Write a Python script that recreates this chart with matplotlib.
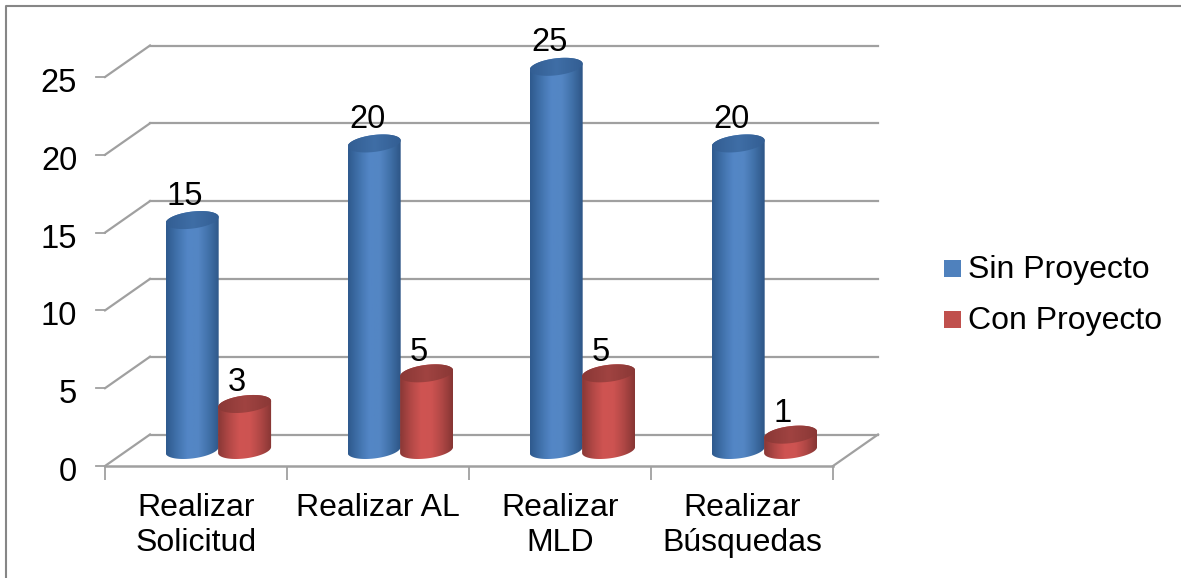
import numpy as np
import matplotlib
matplotlib.use('Agg')
import matplotlib.pyplot as plt
from matplotlib.colors import LinearSegmentedColormap
from matplotlib.patches import PathPatch, Rectangle
from matplotlib.path import Path
from matplotlib.transforms import ScaledTranslation

categories = ['Realizar\nSolicitud', 'Realizar AL', 'Realizar\nMLD', 'Realizar\nBúsquedas']
sin_proyecto = [15, 20, 25, 20]
con_proyecto = [3, 5, 5, 1]
yticks = [0, 5, 10, 15, 20, 25]

W, H = 1181, 578
# pixel size of one data unit
PX_X = 182.0
PX_Y = 15.56
# depth of the fake 3d box
DX = 45 / PX_X
DY = 31.5 / PX_Y
# room above 25 so the tallest cylinder is not cut by the axes box
YMAX = 28

plt.rcParams['font.family'] = ['Liberation Sans', 'DejaVu Sans']

fig = plt.figure(figsize=(W / 100, H / 100), dpi=100)

# frame around the chart, only left and top are visible
frame = fig.add_axes([0, 0, 1, 1])
frame.set_xlim(0, W)
frame.set_ylim(H, 0)
frame.axis('off')
frame.plot([5.5, 5.5, W], [H, 5.5, 5.5], color='#868686', lw=1.5)

ax = fig.add_axes([105 / W, 1 - 466 / H, 4 * PX_X / W, YMAX * PX_Y / H])
ax.set_xlim(0, 4)
ax.set_ylim(0, YMAX)
ax.patch.set_alpha(0)
for s in ax.spines.values():
    s.set_visible(False)

grid_c = '#a0a0a0'
for y in yticks:
    ax.plot([DX, 4 + DX], [y + DY, y + DY], color=grid_c, lw=1.6, clip_on=False, zorder=1)
    ax.plot([0, DX], [y, y + DY], color=grid_c, lw=1.6, clip_on=False, zorder=1)
ax.plot([4, 4 + DX], [0, DY], color=grid_c, lw=1.6, clip_on=False, zorder=1)
ax.plot([0, 4], [0, 0], color=grid_c, lw=1.8, clip_on=False, zorder=1)

ax.set_xticks(range(5))
ax.set_xticklabels([])
ax.set_yticks(yticks)
ax.tick_params(axis='x', length=10, width=1.3, color=grid_c)
ax.tick_params(axis='y', length=0, pad=20, labelsize=23.5)
for lab in ax.get_yticklabels():
    lab.set_transform(lab.get_transform() + ScaledTranslation(0, -3 / 100, fig.dpi_scale_trans))
for y in yticks:
    ax.plot([-9 / PX_X, 0], [y, y], color=grid_c, lw=1.3, clip_on=False, zorder=1)
for i, c in enumerate(categories):
    ax.annotate(c, (i + 0.5, 0), xytext=(0, -27), textcoords='offset pixels', ha='center', va='top',
                fontsize=23, linespacing=1.2, annotation_clip=False)

blue_side = LinearSegmentedColormap.from_list('b', ['#2f5a8e', '#4172ac', '#5386c6', '#5486c4', '#4171a9', '#2e5687'])
red_side = LinearSegmentedColormap.from_list('r', ['#8a3836', '#b24846', '#cf5452', '#cd5351', '#af4745', '#873634'])
blue_top = LinearSegmentedColormap.from_list('bt', ['#335e93', '#3f6ea6', '#335e93'])
red_top = LinearSegmentedColormap.from_list('rt', ['#8a3836', '#a04341', '#8a3836'])

# half sizes of the cylinder ellipse, tilt of its axis
RX = 26.5 / PX_X
RY = 8.5 / PX_Y
TILT = 3.0 / PX_Y
BASE = 1.03
HEIGHT = 0.985
t = np.linspace(0, 2 * np.pi, 121)


def ellipse(cx, cy):
    return cx + RX * np.cos(t), cy + RY * np.sin(t) + TILT * np.cos(t)


def cylinder(x, value, side, top, z):
    ytop = BASE + value * HEIGHT
    bx, by = ellipse(x, BASE)
    tx, ty = ellipse(x, ytop)
    # outline: lower half of the base, then upper half of the top ellipse
    low = t >= np.pi
    up = t <= np.pi
    xs = np.r_[bx[low], tx[up]]
    ys = np.r_[by[low], ty[up]]
    clip = PathPatch(Path(np.c_[xs, ys]), transform=ax.transData, fc='none', ec='none')
    ax.add_patch(clip)
    grad = np.linspace(0, 1, 64).reshape(1, -1)
    im = ax.imshow(grad, cmap=side, extent=[x - RX, x + RX, BASE - 1, ytop + 1],
                   aspect='auto', zorder=z)
    im.set_clip_path(clip)
    lid = PathPatch(Path(np.c_[tx, ty]), transform=ax.transData, fc='none', ec='none')
    ax.add_patch(lid)
    im2 = ax.imshow(grad, cmap=top, extent=[x - RX, x + RX, ytop - 1, ytop + 1],
                    aspect='auto', zorder=z + 0.1)
    im2.set_clip_path(lid)
    return ytop


for i in range(4):
    bx = i + 0.479
    rx = i + 0.767
    ytop = cylinder(bx, sin_proyecto[i], blue_side, blue_top, 3)
    ax.annotate(str(sin_proyecto[i]), (bx, ytop), xytext=(-7, 24),
                textcoords='offset pixels', ha='center', va='center', fontsize=23.5, zorder=6,
                annotation_clip=False)
    ytop = cylinder(rx, con_proyecto[i], red_side, red_top, 4)
    ax.annotate(str(con_proyecto[i]), (rx, ytop), xytext=(-8, 21),
                textcoords='offset pixels', ha='center', va='center', fontsize=23.5, zorder=6,
                annotation_clip=False)

ax.set_xlim(0, 4)
ax.set_ylim(0, YMAX)

# legend
for lbl, col, py in [('Sin Proyecto', '#4f81bd', 268.5), ('Con Proyecto', '#c0504d', 319.5)]:
    frame.add_patch(Rectangle((944, py - 8.5), 17, 17, color=col, lw=0))
    frame.text(968, py + 9.5, lbl, fontsize=23, va='baseline', ha='left')

fig.savefig('out.png', dpi=100)
